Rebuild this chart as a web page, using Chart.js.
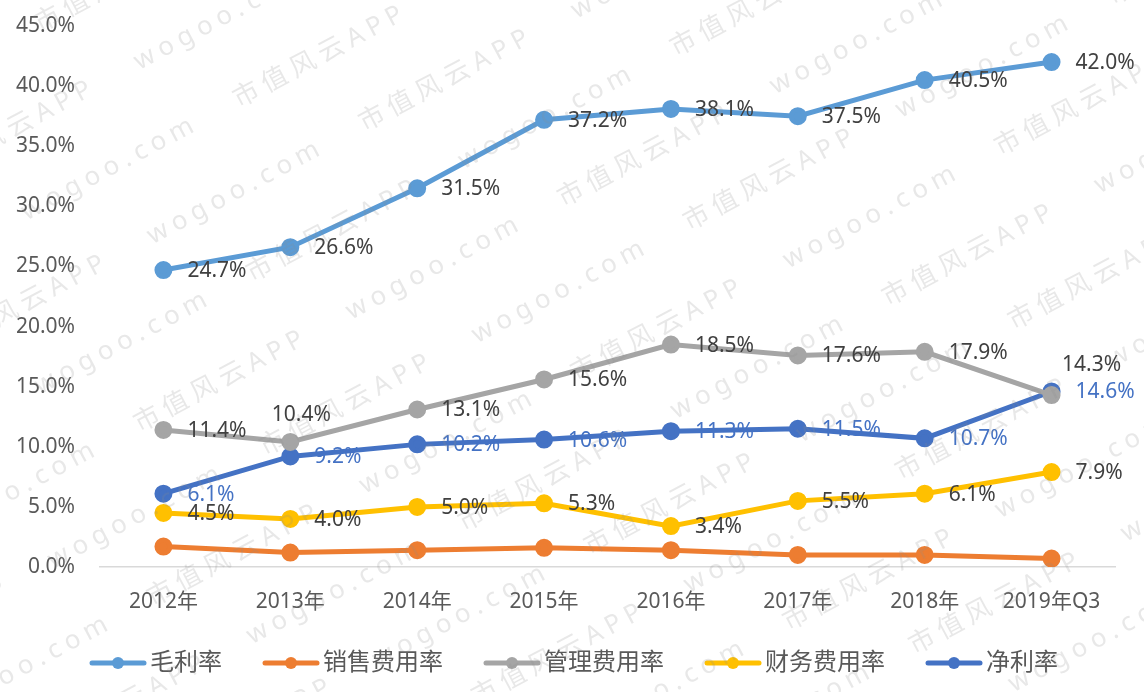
<!DOCTYPE html>
<html>
<head>
<meta charset="utf-8">
<script src="https://cdn.jsdelivr.net/npm/chart.js@4"></script>
<style>
  html, body { margin: 0; padding: 0; background: #fff; }
  #wrap { width: 1144px; height: 692px; position: relative; }
</style>
</head>
<body>
<div id="wrap"><canvas id="rateChart"></canvas></div>
<script>
// categories + series (percent)
const years = ['2012年', '2013年', '2014年', '2015年', '2016年', '2017年', '2018年', '2019年Q3'];
const grossMargin = [24.7, 26.6, 31.5, 37.2, 38.1, 37.5, 40.5, 42.0];
const salesExpense = [1.7, 1.2, 1.4, 1.6, 1.4, 1.0, 1.0, 0.7];
const adminExpense = [11.4, 10.4, 13.1, 15.6, 18.5, 17.6, 17.9, 14.3];
const financeExpense = [4.5, 4.0, 5.0, 5.3, 3.4, 5.5, 6.1, 7.9];
const netMargin = [6.1, 9.2, 10.2, 10.6, 11.3, 11.5, 10.7, 14.6];
const yTicks = [0, 5, 10, 15, 20, 25, 30, 35, 40, 45];

const FONT = "'Noto Sans', 'Noto Sans CJK SC', sans-serif";
const textColor = '#595959';
const labelColor = '#404040';

// legend marker: short line with a dot, with blank space on the left
// (the blank is what separates one legend item from the previous one)
function makeMarker(color) {
    const gap = 39;
    const c = document.createElement('canvas');
    c.width = 58 + gap; c.height = 16;
    const g = c.getContext('2d');
    g.strokeStyle = color;
    g.lineWidth = 5;
    g.lineCap = 'round';
    g.beginPath(); g.moveTo(gap + 3, 8); g.lineTo(gap + 55, 8); g.stroke();
    g.fillStyle = color;
    g.beginPath(); g.arc(gap + 29, 8, 6, 0, Math.PI * 2); g.fill();
    return c;
}

function series(label, data, color, extra) {
    return Object.assign({
        label: label,
        data: data,
        borderColor: color,
        backgroundColor: color,
        pointBackgroundColor: color,
        pointBorderColor: color,
        borderWidth: 5,
        pointRadius: 6.5,
        tension: 0,
        marker: makeMarker(color)
    }, extra || {});
}

// value labels drawn next to each point (right side by default)
const pointLabels = {
    id: 'pointLabels',
    afterDatasetsDraw(chart) {
        const ctx = chart.ctx;
        ctx.save();
        ctx.font = '21px ' + FONT;
        ctx.textBaseline = 'middle';
        chart.data.datasets.forEach((ds, i) => {
            if (!ds.showValues) return;
            const meta = chart.getDatasetMeta(i);
            meta.data.forEach((pt, j) => {
                const off = (ds.labelOffsets && ds.labelOffsets[j]) || [24, 1];
                ctx.fillStyle = ds.valueColor || labelColor;
                ctx.textAlign = off[2] || 'left';
                ctx.fillText(ds.data[j].toFixed(1) + '%', pt.x + off[0], pt.y + off[1]);
            });
        });
        ctx.restore();
    }
};

// faint diagonal watermark
const watermark = {
    id: 'watermark',
    afterDraw(chart) {
        const ctx = chart.ctx;
        ctx.save();
        ctx.fillStyle = 'rgba(140,140,140,0.2)';
        ctx.font = '26px ' + FONT;
        ctx.textBaseline = 'middle';
        ctx.rotate(-28 * Math.PI / 180);
        try { ctx.letterSpacing = '6px'; } catch (e) {}
        let row = 0;
        for (let y = -200; y < 1300; y += 80, row++) {
            let x = -700 + (row % 3) * 70;
            for (let k = 0; x < 1500; k++) {
                const s = (k + row) % 2 === 0 ? '市值风云APP' : 'wogoo.com';
                ctx.fillText(s, x, y);
                x += 240;
            }
        }
        ctx.restore();
    }
};

new Chart(document.getElementById('rateChart'), {
    type: 'line',
    data: {
        labels: years,
        datasets: [
            series('毛利率', grossMargin, '#5B9BD5', { showValues: true }),
            series('销售费用率', salesExpense, '#ED7D31'),
            series('管理费用率', adminExpense, '#A5A5A5', {
                showValues: true,
                labelOffsets: { 1: [11, -27, 'center'], 7: [40, -30, 'center'] }
            }),
            series('财务费用率', financeExpense, '#FFC000', { showValues: true }),
            series('净利率', netMargin, '#4472C4', { showValues: true, valueColor: '#4472C4' })
        ]
    },
    options: {
        responsive: true,
        maintainAspectRatio: false,
        animation: false,
        layout: { padding: { left: 0, right: 27, top: 26, bottom: 7 } },
        plugins: {
            tooltip: { enabled: false },
            legend: {
                position: 'bottom',
                labels: {
                    color: textColor,
                    font: { family: FONT, size: 24 },
                    usePointStyle: true,
                    pointStyleWidth: 79,
                    padding: 10,
                    generateLabels(chart) {
                        return chart.data.datasets.map((ds, i) => ({
                            text: ds.label,
                            pointStyle: ds.marker,
                            fontColor: textColor,
                            datasetIndex: i,
                            lineWidth: 0,
                            strokeStyle: 'transparent',
                            fillStyle: ds.borderColor
                        }));
                    }
                }
            }
        },
        scales: {
            x: {
                offset: true,
                grid: { display: false, drawTicks: false },
                border: { display: true, color: '#D9D9D9', width: 1.5 },
                ticks: { color: textColor, font: { family: FONT, size: 21 }, padding: 22, maxRotation: 0 },
                afterFit(axis) { axis.height = 74; axis.paddingLeft = 0; axis.paddingRight = 0; }
            },
            y: {
                min: 0,
                max: 45,
                afterBuildTicks(axis) { axis.ticks = yTicks.map(v => ({ value: v })); },
                grid: { display: false, drawTicks: false },
                border: { display: false },
                ticks: {
                    color: textColor,
                    font: { family: FONT, size: 21 },
                    padding: 25,
                    callback: v => v.toFixed(1) + '%'
                },
                afterFit(axis) { axis.width = 100; axis.paddingTop = 0; axis.paddingBottom = 0; }
            },
            // empty right-hand spacer so the plot ends where the reference does
            spacer: {
                type: 'linear',
                position: 'right',
                grid: { display: false, drawTicks: false },
                border: { display: false },
                ticks: { display: false },
                afterFit(axis) { axis.width = 2; axis.paddingTop = 0; axis.paddingBottom = 0; }
            }
        }
    },
    plugins: [pointLabels, watermark]
});
</script>
</body>
</html>
